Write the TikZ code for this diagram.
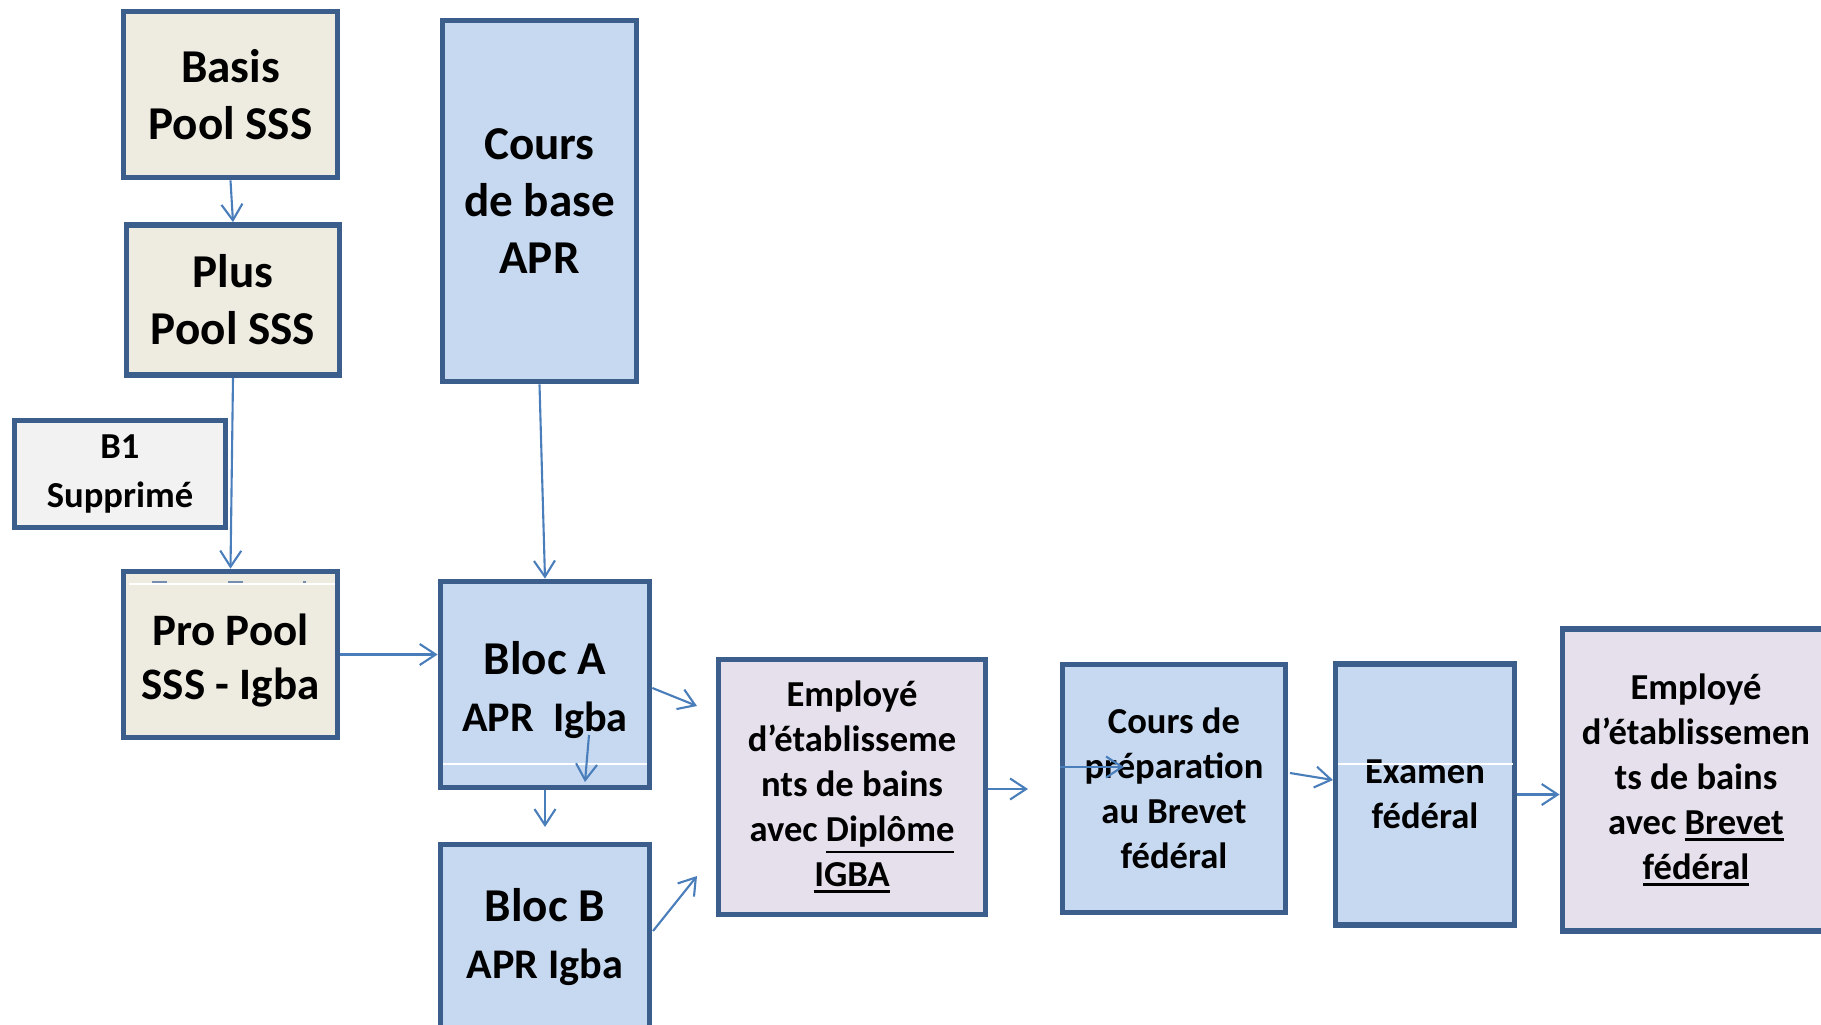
\documentclass[tikz,border=0pt]{standalone}
\usepackage{fontspec}
\setmainfont{Carlito}
\usetikzlibrary{arrows.meta}
\definecolor{boxline}{HTML}{3B5E8C}
\definecolor{poolfill}{HTML}{EEECE1}
\definecolor{greyfill}{HTML}{F2F2F2}
\definecolor{bluefill}{HTML}{C6D9F1}
\definecolor{lilafill}{HTML}{E5E0EC}
\definecolor{arrowline}{HTML}{4A7EBB}
\newcommand{\bigtxt}{\fontsize{13.4}{16.2}\selectfont}
\newcommand{\midtxt}{\fontsize{10.4}{12.8}\selectfont}
\newcommand{\thickul}[1]{\vtop{\hbox{#1}\kern0.9pt\hrule height 0.75pt}}
\begin{document}
\begin{tikzpicture}[x=0.01cm,y=-0.01cm]
    \tikzset{
        box/.style={draw=boxline, line width=1.6pt, align=center, inner sep=0pt},
        pool/.style={box, fill=poolfill, font=\bfseries\bigtxt},
        blue/.style={box, fill=bluefill, font=\bfseries\bigtxt},
        small/.style={box, fill=bluefill, font=\bfseries\midtxt},
        lila/.style={box, fill=lilafill, font=\bfseries\midtxt},
        arr/.style={draw=arrowline, line width=0.6pt, -{Straight Barb[length=0.16cm,width=0.21cm]}},}
    \clip (0,0) rectangle (1821,1024);
    % left column
    \node[pool, minimum width=2.14cm, minimum height=1.66cm] (basis) at (230.5,94.5) {Basis\\Pool SSS};
    \node[pool, minimum width=2.13cm, minimum height=1.50cm] (plus) at (233,300) {Plus\\Pool SSS};
    \node[box, fill=greyfill, font=\bfseries\fontsize{10.4}{13.1}\selectfont,
        minimum width=2.11cm, minimum height=1.07cm] (bone) at (120,474) {B1\\[1pt]Supprimé};
    \node[pool, font=\bfseries\fontsize{12.8}{15.2}\selectfont,
        minimum width=2.14cm, minimum height=1.66cm] (pro) at (230.5,654.5) {\rule{0pt}{12.4pt}Pro Pool\\SSS - Igba};
    % APR column
    \node[blue, minimum width=1.94cm, minimum height=3.61cm] (cours) at (539.5,201) {Cours\\de base\\APR};
    \node[blue, minimum width=2.09cm, minimum height=2.06cm] (bloca) at (545,684.5)
        {\rule{0pt}{12.4pt}Bloc A\\{\fontsize{12}{14.3}\selectfont APR~ Igba}};
    \node[blue, minimum width=2.09cm, minimum height=1.85cm] (blocb) at (545,937)
        {Bloc B\\{\fontsize{12}{14.3}\selectfont APR Igba}};
    % right row
    \node[lila, minimum width=2.67cm, minimum height=2.55cm] (empl) at (852,787)
        {Employé\\d’établisseme\\nts de bains\\avec \thickul{Diplôme}\\\thickul{IGBA}};
    \node[small, minimum width=2.23cm, minimum height=2.48cm] (prep) at (1174,788.5)
        {Cours de\\préparation\\au Brevet\\fédéral};
    \node[small, minimum width=1.79cm, minimum height=2.61cm] (exam) at (1425,794.5) {Examen\\fédéral};
    \node[lila, minimum width=2.67cm, minimum height=3.02cm] (brevet) at (1696,780)
        {Employé\\d’établissemen\\ts de bains\\avec \thickul{Brevet}\\\thickul{fédéral}};
    % white seams
    \draw[white, line width=0.5pt] (129,584) -- (335,584);
    \draw[white, line width=0.5pt] (443,764) -- (647,764);
    \draw[white, line width=0.5pt] (1338,764) -- (1513,764);
    \foreach \a/\b in {152/167, 228/243, 303/306}
        \draw[boxline!70, line width=0.5pt] (\a,582) -- (\b,582);
    % free ends
    \coordinate (abE) at (545,827);
    \coordinate (aeE) at (697,706);
    \coordinate (beS) at (653,931);
    \coordinate (beE) at (697,876);
    \coordinate (inS) at (589,735);
    \coordinate (inE) at (585,782);
    \coordinate (epE) at (1028,789);
    \coordinate (ppS) at (1060,767);
    \coordinate (ppE) at (1124,767);
    \coordinate (peS) at (1290,773);
    \coordinate (peE) at (1333,780);
    % arrows
    \draw[arr] (basis.south) -- (plus.north);
    \draw[arr] (plus.south) -- (pro.north);
    \draw[arr] (cours.south) -- (bloca.north);
    \draw[arr] (pro.east) -- (pro.east -| bloca.west);
    \draw[arr] (bloca.south) -- (abE);
    \draw[arr] (inS) -- (inE);
    \draw[arr] (bloca.east |- aeE) ++(0,-18) -- (aeE);
    \draw[arr] (beS) -- (beE);
    \draw[arr] (empl.east |- epE) -- (epE);
    \draw[arr] (ppS) -- (ppE);
    \draw[arr] (peS) -- (peE);
    \draw[arr] (exam.east) -- (exam.east -| brevet.west);
\end{tikzpicture}
\end{document}
